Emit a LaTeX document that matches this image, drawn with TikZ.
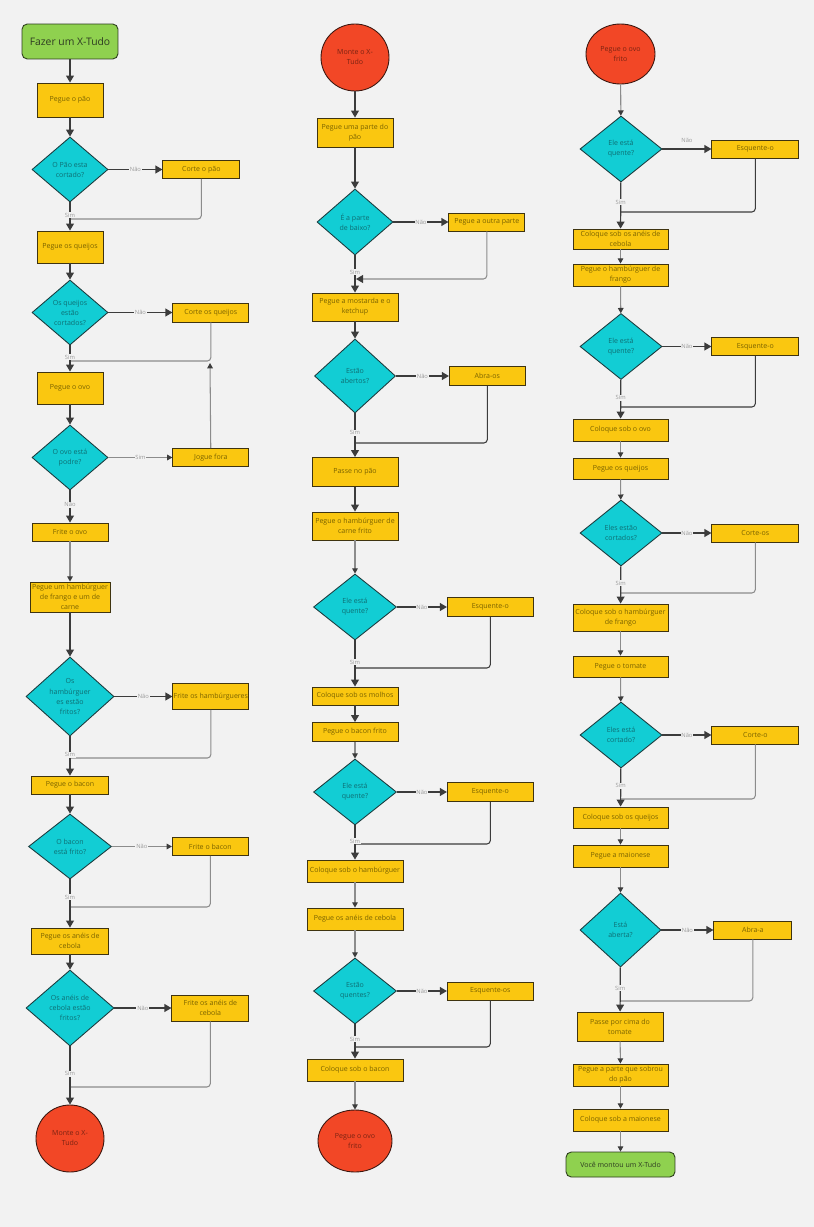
\documentclass[tikz,border=0pt]{standalone}
\usepackage{xcolor}
\usepackage{fontspec}
\setmainfont{Open Sans}
\usepackage{tikz}
\usetikzlibrary{shapes.geometric, positioning, arrows.meta}

\definecolor{bgray}{HTML}{F2F2F2}
\definecolor{myyellow}{HTML}{FAC710}
\definecolor{ydark}{HTML}{3F3410}
\definecolor{ytext}{HTML}{7A6200}
\definecolor{mycyan}{HTML}{12CDD4}
\definecolor{cdark}{HTML}{1B3B3D}
\definecolor{ctext}{HTML}{0E6E73}
\definecolor{myred}{HTML}{F24726}
\definecolor{rdark}{HTML}{3B1710}
\definecolor{rtext}{HTML}{7A2312}
\definecolor{mygreen}{HTML}{8FD14F}
\definecolor{gdark}{HTML}{2B3B1B}
\definecolor{gtext}{HTML}{2E3B22}
\definecolor{ldark}{HTML}{3C3C3C}
\definecolor{lgray}{HTML}{8C8C8C}
\definecolor{lbltext}{HTML}{9A9A9A}

\tikzset{
	every node/.style={font=\fontsize{4}{5.7}\selectfont},
	box/.style={rectangle, draw=ydark, fill=myyellow, text=ytext, line width=0.5pt, inner sep=0.5pt, align=center},
	test/.style={diamond, draw=cdark, fill=mycyan, text=ctext, line width=0.5pt, inner sep=0pt, align=center},
	term/.style={ellipse, draw=rdark, fill=myred, text=rtext, line width=0.5pt, inner sep=0pt, align=center},
	startstop/.style={rectangle, rounded corners=3pt, draw=gdark, fill=mygreen, text=gtext, line width=0.5pt, inner sep=0.5pt, align=center},
	flow/.style={draw=ldark, line width=0.7pt, -{Triangle[width=4.5pt,length=4pt]}},
	flowlight/.style={draw=lgray, line width=0.6pt, -{Triangle[width=3.2pt,length=3pt,color=ldark]}},
	back/.style={draw=lgray, line width=0.6pt, rounded corners=2pt},
	lbl/.style={fill=bgray, inner sep=0.5pt, text=lbltext, font=\fontsize{3.3}{4}\selectfont},
}

\begin{document}
\begin{tikzpicture}[x=0.02cm, y=-0.02cm]
			\fill[bgray] (0,0) rectangle (814,1227);

			% Nodes: first column
			\node (start) [startstop, minimum width=1.92cm, minimum height=0.7cm, font=\fontsize{5.9}{7}\selectfont] at (70,41.5) {Fazer um X-Tudo};
			\node (pao) [box, minimum width=1.32cm, minimum height=0.68cm] at (70,100) {Pegue o pão};
			\node (d1) [test, minimum width=1.52cm, minimum height=1.3cm] at (70,169.5) {O Pão esta\\cortado?};
			\node (corte1) [box, minimum width=1.54cm, minimum height=0.36cm, right=1.08cm of d1] {Corte o pão};
			\node (queijos) [box, minimum width=1.32cm, minimum height=0.64cm] at (70,247) {Pegue os queijos};
			\node (d2) [test, minimum width=1.52cm, minimum height=1.3cm] at (70,312.5) {Os queijos\\estão\\cortados?};
			\node (corte2) [box, minimum width=1.52cm, minimum height=0.38cm, right=1.28cm of d2] {Corte os queijos};
			\node (ovo) [box, minimum width=1.32cm, minimum height=0.64cm] at (70,388) {Pegue o ovo};
			\node (d3) [test, minimum width=1.52cm, minimum height=1.3cm] at (70,457.5) {O ovo está\\podre?};
			\node (jogue) [box, minimum width=1.52cm, minimum height=0.36cm, right=1.28cm of d3] {Jogue fora};
			\node (fovo) [box, minimum width=1.52cm, minimum height=0.36cm] at (70,532) {Frite o ovo};
			\node (hamb) [box, minimum width=1.6cm, minimum height=0.6cm] at (70,597) {Pegue um hambúrguer\\de frango e um de\\carne};
			\node (d4) [test, minimum width=1.76cm, minimum height=1.58cm] at (70,696.5) {Os\\hambúrguer\\es estão\\fritos?};
			\node (fhamb) [box, minimum width=1.52cm, minimum height=0.52cm, right=1.16cm of d4] {Frite os hambúrgueres};
			\node (bacon) [box, minimum width=1.54cm, minimum height=0.36cm] at (70,785) {Pegue o bacon};
			\node (d5) [test, minimum width=1.66cm, minimum height=1.3cm] at (70,846.5) {O bacon\\está frito?};
			\node (fbacon) [box, minimum width=1.52cm, minimum height=0.36cm, right=1.2cm of d5] {Frite o bacon};
			\node (aneis) [box, minimum width=1.54cm, minimum height=0.52cm] at (70,941) {Pegue os anéis de\\cebola};
			\node (d6) [test, minimum width=1.76cm, minimum height=1.52cm] at (70,1008) {Os anéis de\\cebola estão\\fritos?};
			\node (faneis) [box, minimum width=1.54cm, minimum height=0.52cm, right=1.14cm of d6] {Frite os anéis de\\cebola};
			\node (monte1) [term, minimum width=1.36cm, minimum height=1.34cm] at (70,1138.5) {Monte o X-\\Tudo};

			% Nodes: second column
			\node (monte2) [term, minimum width=1.36cm, minimum height=1.34cm] at (355,57.5) {Monte o X-\\Tudo};
			\node (parte) [box, minimum width=1.52cm, minimum height=0.58cm] at (355,132.5) {Pegue uma parte do\\pão};
			\node (e1) [test, minimum width=1.52cm, minimum height=1.32cm] at (355,222) {É a parte\\de baixo?};
			\node (outra) [box, minimum width=1.52cm, minimum height=0.36cm, right=1.1cm of e1] {Pegue a outra parte};
			\node (mostarda) [box, minimum width=1.72cm, minimum height=0.56cm] at (355,307) {Pegue a mostarda e o\\ketchup};
			\node (e2) [test, minimum width=1.62cm, minimum height=1.48cm] at (355,376) {Estão\\abertos?};
			\node (abra1) [box, minimum width=1.52cm, minimum height=0.38cm, right=1.06cm of e2] {Abra-os};
			\node (passe) [box, minimum width=1.72cm, minimum height=0.58cm] at (355,472) {Passe no pão};
			\node (carne) [box, minimum width=1.72cm, minimum height=0.56cm] at (355,526) {Pegue o hambúrguer de\\carne frito};
			\node (e3) [test, minimum width=1.66cm, minimum height=1.32cm] at (355,607) {Ele está\\quente?};
			\node (esq1) [box, minimum width=1.72cm, minimum height=0.38cm, right=1cm of e3] {Esquente-o};
			\node (molhos) [box, minimum width=1.72cm, minimum height=0.36cm] at (355,696) {Coloque sob os molhos};
			\node (bfrito) [box, minimum width=1.72cm, minimum height=0.38cm] at (355,732) {Pegue o bacon frito};
			\node (e4) [test, minimum width=1.66cm, minimum height=1.32cm] at (355,792) {Ele está\\quente?};
			\node (esq2) [box, minimum width=1.72cm, minimum height=0.38cm, right=1cm of e4] {Esquente-o};
			\node (sobh) [box, minimum width=1.92cm, minimum height=0.44cm] at (355,871) {Coloque sob o hambúrguer};
			\node (aneis2) [box, minimum width=1.92cm, minimum height=0.44cm] at (355,919) {Pegue os anéis de cebola};
			\node (e5) [test, minimum width=1.66cm, minimum height=1.32cm] at (355,991) {Estão\\quentes?};
			\node (esq3) [box, minimum width=1.72cm, minimum height=0.36cm, right=1cm of e5] {Esquente-os};
			\node (sobb) [box, minimum width=1.92cm, minimum height=0.44cm] at (355,1070) {Coloque sob o bacon};
			\node (ovof1) [term, minimum width=1.48cm, minimum height=1.24cm] at (355,1141) {Pegue o ovo\\frito};

			% Nodes: third column
			\node (ovof2) [term, minimum width=1.38cm, minimum height=1.2cm] at (620.5,54) {Pegue o ovo\\frito};
			\node (f1) [test, minimum width=1.64cm, minimum height=1.32cm] at (621,149) {Ele está\\quente?};
			\node (esq4) [box, minimum width=1.74cm, minimum height=0.36cm, right=0.98cm of f1] {Esquente-o};
			\node (sobaneis) [box, minimum width=1.9cm, minimum height=0.4cm] at (620.5,239) {Coloque sob os anéis de\\cebola};
			\node (hfrango) [box, minimum width=1.9cm, minimum height=0.44cm] at (620.5,275) {Pegue o hambúrguer de\\frango};
			\node (f2) [test, minimum width=1.64cm, minimum height=1.32cm] at (621,346.5) {Ele está\\quente?};
			\node (esq5) [box, minimum width=1.74cm, minimum height=0.36cm, right=0.98cm of f2] {Esquente-o};
			\node (sobovo) [box, minimum width=1.9cm, minimum height=0.44cm] at (620.5,430) {Coloque sob o ovo};
			\node (queijos3) [box, minimum width=1.9cm, minimum height=0.42cm] at (620.5,468.5) {Pegue os queijos};
			\node (f3) [test, minimum width=1.64cm, minimum height=1.32cm] at (621,533) {Eles estão\\cortados?};
			\node (corte3) [box, minimum width=1.74cm, minimum height=0.36cm, right=0.98cm of f3] {Corte-os};
			\node (sobhf) [box, minimum width=1.9cm, minimum height=0.54cm] at (620.5,617.5) {Coloque sob o hambúrguer\\de frango};
			\node (tomate) [box, minimum width=1.9cm, minimum height=0.42cm] at (620.5,666.5) {Pegue o tomate};
			\node (f4) [test, minimum width=1.64cm, minimum height=1.32cm] at (621,735) {Eles está\\cortado?};
			\node (corte4) [box, minimum width=1.74cm, minimum height=0.36cm, right=0.98cm of f4] {Corte-o};
			\node (sobq) [box, minimum width=1.9cm, minimum height=0.42cm] at (620.5,817.5) {Coloque sob os queijos};
			\node (maionese) [box, minimum width=1.9cm, minimum height=0.44cm] at (620.5,856) {Pegue a maionese};
			\node (f5) [test, minimum width=1.62cm, minimum height=1.48cm] at (620.5,930) {Está\\aberta?};
			\node (abra2) [box, minimum width=1.56cm, minimum height=0.36cm, right=1.04cm of f5] {Abra-a};
			\node (cima) [box, minimum width=1.72cm, minimum height=0.58cm] at (620,1026.5) {Passe por cima do\\tomate};
			\node (sobrou) [box, minimum width=1.9cm, minimum height=0.44cm] at (620.5,1075) {Pegue a parte que sobrou\\do pão};
			\node (sobm) [box, minimum width=1.9cm, minimum height=0.44cm] at (620.5,1120) {Coloque sob a maionese};
			\node (fim) [startstop, minimum width=2.18cm, minimum height=0.5cm] at (620.5,1164.5) {Você montou um X-Tudo};

			% Joints where the loops come back
			\coordinate (m1) at (70,219);
			\coordinate (m2) at (70,361);
			\coordinate (j1) at (210,363);
			\coordinate (m3) at (70,758);
			\coordinate (m4) at (70,907);
			\coordinate (m5) at (70,1087);
			\coordinate (n1) at (356,279);
			\coordinate (n2) at (355,443);
			\coordinate (n3) at (355,668);
			\coordinate (n4) at (355,844);
			\coordinate (n5) at (355,1047);
			\coordinate (k1) at (621,212);
			\coordinate (k2) at (621,407);
			\coordinate (k3) at (621,593);
			\coordinate (k4) at (621,799);
			\coordinate (k5) at (621,1001);

			% Edges: first column
			\draw[flow] (start) -- (pao);
			\draw[flow] (pao) -- (d1);
			\draw[flow] (d1) -- node[lbl] {Não} (corte1);
			\draw[back] (corte1.south) |- (m1);
			\draw[flow] (d1) -- node[lbl, pos=0.45] {Sim} (queijos);
			\draw[flow] (queijos) -- (d2);
			\draw[flow] (d2) -- node[lbl] {Não} (corte2);
			\draw[back] (corte2.south) |- (m2);
			\draw[flow] (d2) -- node[lbl, pos=0.44] {Sim} (ovo);
			\draw[flow] (ovo) -- (d3);
			\draw[flowlight] (d3) -- node[lbl] {Sim} (jogue);
			\draw[flowlight] (jogue) -- (j1);
			\draw[flow] (d3) -- node[lbl, pos=0.45] {Não} (fovo);
			\draw[flowlight] (fovo) -- (hamb);
			\draw[flow] (hamb) -- (d4);
			\draw[flow] (d4) -- node[lbl] {Não} (fhamb);
			\draw[back] (fhamb.south) |- (m3);
			\draw[flow] (d4) -- node[lbl, pos=0.47] {Sim} (bacon);
			\draw[flow] (bacon) -- (d5);
			\draw[flowlight] (d5) -- node[lbl] {Não} (fbacon);
			\draw[back] (fbacon.south) |- (m4);
			\draw[flow] (d5) -- node[lbl, pos=0.37] {Sim} (aneis);
			\draw[flow] (aneis) -- (d6);
			\draw[flow] (d6) -- node[lbl] {Não} (faneis);
			\draw[back] (faneis.south) |- (m5);
			\draw[flow] (d6) -- node[lbl, pos=0.47] {Sim} (monte1);

			% Edges: second column
			\draw[flow] (monte2) -- (parte);
			\draw[flow] (parte) -- (e1);
			\draw[flow] (e1) -- node[lbl] {Não} (outra);
			\draw[back, -{Triangle[width=4.5pt,length=4pt,color=ldark]}] (outra.south) |- (n1);
			\draw[flow] (e1) -- node[lbl, pos=0.45] {Sim} (mostarda);
			\draw[flow] (mostarda) -- (e2);
			\draw[flow] (e2) -- node[lbl] {Não} (abra1);
			\draw[back, draw=ldark] (abra1.south) |- (n2);
			\draw[flow] (e2) -- node[lbl, pos=0.44] {Sim} (passe);
			\draw[flow] (passe) -- (carne);
			\draw[flowlight] (carne) -- (e3);
			\draw[flow] (e3) -- node[lbl] {Não} (esq1);
			\draw[back, draw=ldark] (esq1.south) |- (n3);
			\draw[flow] (e3) -- node[lbl, pos=0.47] {Sim} (molhos);
			\draw[flow] (molhos) -- (bfrito);
			\draw[flowlight] (bfrito) -- (e4);
			\draw[flow] (e4) -- node[lbl] {Não} (esq2);
			\draw[back, draw=ldark] (esq2.south) |- (n4);
			\draw[flow] (e4) -- node[lbl, pos=0.46] {Sim} (sobh);
			\draw[flowlight] (sobh) -- (aneis2);
			\draw[flowlight] (aneis2) -- (e5);
			\draw[flow] (e5) -- node[lbl] {Não} (esq3);
			\draw[back, draw=ldark] (esq3.south) |- (n5);
			\draw[flow] (e5) -- node[lbl, pos=0.43] {Sim} (sobb);
			\draw[flowlight] (sobb) -- (ovof1);

			% Edges: third column
			\draw[flowlight] (ovof2) -- (f1);
			\draw[flow] (f1) -- node[above, text=lbltext, font=\fontsize{3.3}{4}\selectfont] {Não} (esq4);
			\draw[back, draw=ldark] (esq4.south) |- (k1);
			\draw[flow] (f1) -- node[lbl, pos=0.43] {Sim} (sobaneis);
			\draw[flowlight] (sobaneis) -- (hfrango);
			\draw[flowlight] (hfrango) -- (f2);
			\draw[flow] (f2) -- node[lbl] {Não} (esq5);
			\draw[back, draw=ldark] (esq5.south) |- (k2);
			\draw[flow] (f2) -- node[lbl, pos=0.46] {Sim} (sobovo);
			\draw[flowlight] (sobovo) -- (queijos3);
			\draw[flowlight] (queijos3) -- (f3);
			\draw[flow] (f3) -- node[lbl] {Não} (corte3);
			\draw[back] (corte3.south) |- (k3);
			\draw[flow] (f3) -- node[lbl, pos=0.45] {Sim} (sobhf);
			\draw[flowlight] (sobhf) -- (tomate);
			\draw[flowlight] (tomate) -- (f4);
			\draw[flow] (f4) -- node[lbl] {Não} (corte4);
			\draw[back] (corte4.south) |- (k4);
			\draw[flow] (f4) -- node[lbl, pos=0.46] {Sim} (sobq);
			\draw[flowlight] (sobq) -- (maionese);
			\draw[flowlight] (maionese) -- (f5);
			\draw[flow] (f5) -- node[lbl] {Não} (abra2);
			\draw[back] (abra2.south) |- (k5);
			\draw[flow] (f5) -- node[lbl, pos=0.47] {Sim} (cima);
			\draw[flowlight] (cima) -- (sobrou);
			\draw[flowlight] (sobrou) -- (sobm);
			\draw[flowlight] (sobm) -- (fim);

		\end{tikzpicture}
\end{document}
